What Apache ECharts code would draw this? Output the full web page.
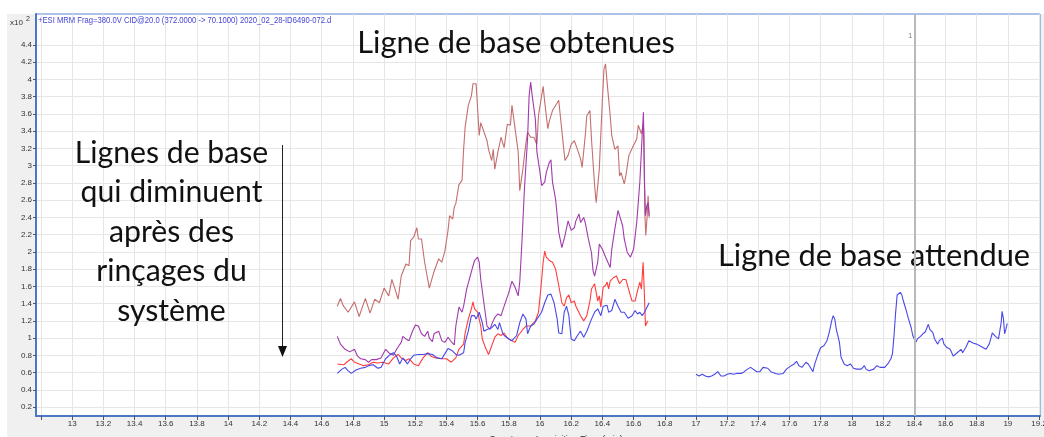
<!DOCTYPE html>
<html>
<head>
<meta charset="utf-8">
<script src="https://cdn.jsdelivr.net/npm/echarts@6/dist/echarts.min.js"></script>
<style>
  html, body { margin: 0; padding: 0; background: #ffffff; }
  #chart { width: 1044px; height: 437px; }
</style>
</head>
<body>
<div id="chart"></div>
<script>
// MRM trace header and axis captions
const traceHeader = '+ESI MRM Frag=380.0V CID@20.0 (372.0000 -> 70.1000) 2020_02_28-ID6490-072.d';
const xAxisTitle = 'Counts vs. Acquisition Time (min)';
const yScaleNote = 'x10';
const yScaleExp = '2';

// Axis extents (min) and (x10^2 counts)
const timeRange = [12.768, 19.206];
const countRange = [0.096, 4.76];

// Tick positions
const timeTicks = [12.8, 13, 13.2, 13.4, 13.6, 13.8, 14, 14.2, 14.4, 14.6, 14.8, 15, 15.2, 15.4, 15.6, 15.8,
  16, 16.2, 16.4, 16.6, 16.8, 17, 17.2, 17.4, 17.6, 17.8, 18, 18.2, 18.4, 18.6, 18.8, 19, 19.2];
const timeLabels = [13, 13.2, 13.4, 13.6, 13.8, 14, 14.2, 14.4, 14.6, 14.8, 15, 15.2, 15.4, 15.6, 15.8,
  16, 16.2, 16.4, 16.6, 16.8, 17, 17.2, 17.4, 17.6, 17.8, 18, 18.2, 18.4, 18.6, 18.8, 19, 19.2];
const countTicks = [0.2, 0.4, 0.6, 0.8, 1, 1.2, 1.4, 1.6, 1.8, 2, 2.2, 2.4, 2.6, 2.8, 3, 3.2, 3.4, 3.6,
  3.8, 4, 4.2, 4.4];

// Cursor position (min)
const cursorTime = 18.4;
const cursorLabel = '1';

// Baselines recorded before / between system rinses: [time (min), counts (x10^2)]
const rinseRun1 = [[14.70,1.37],[14.72,1.46],[14.74,1.37],[14.77,1.30],[14.81,1.42],[14.84,1.25],[14.88,1.46],
  [14.91,1.29],[14.94,1.45],[14.97,1.41],[15.00,1.58],[15.03,1.49],[15.05,1.68],[15.07,1.57],[15.09,1.45],
  [15.11,1.72],[15.14,1.86],[15.16,1.84],[15.17,2.13],[15.19,2.17],[15.21,2.28],[15.22,2.15],[15.24,2.15],
  [15.26,1.88],[15.29,1.58],[15.32,1.77],[15.35,1.92],[15.37,1.88],[15.39,2.01],[15.41,2.25],[15.42,2.42],
  [15.44,2.38],[15.45,2.52],[15.46,2.56],[15.48,2.78],[15.50,2.83],[15.51,3.19],[15.52,3.45],[15.54,3.70],
  [15.56,3.81],[15.57,3.95],[15.59,3.95],[15.60,3.66],[15.61,3.35],[15.62,3.50],[15.63,3.50],[15.66,3.29],
  [15.67,3.19],[15.69,3.06],[15.70,3.19],[15.71,2.96],[15.73,3.16],[15.75,3.33],[15.77,3.21],[15.79,3.48],
  [15.81,3.47],[15.82,3.70],[15.84,3.43],[15.86,3.16],[15.87,2.71],[15.89,2.96],[15.91,3.27],[15.92,3.39],
  [15.94,3.33],[15.96,3.33],[15.98,3.25],[15.99,3.58],[16.01,3.81],[16.02,3.92],[16.03,3.74],[16.05,3.43],
  [16.06,3.52],[16.08,3.64],[16.12,3.76],[16.13,3.58],[16.15,3.23],[16.16,3.06],[16.18,3.12],[16.20,3.25],
  [16.22,3.29],[16.24,3.19],[16.26,3.08],[16.27,2.98],[16.29,3.35],[16.30,3.58],[16.32,3.64],[16.33,3.31],
  [16.35,2.77],[16.36,2.57],[16.38,2.96],[16.40,3.77],[16.41,4.12],[16.42,4.18],[16.43,3.97],[16.45,3.58],
  [16.46,3.35],[16.48,3.19],[16.50,3.23],[16.51,2.88],[16.52,2.92],[16.54,2.79],[16.55,2.88],[16.57,3.12],
  [16.59,3.20],[16.60,3.19],[16.62,3.31],[16.63,3.47],[16.65,3.37],[16.66,3.47],[16.665,3.43],[16.672,2.46],
  [16.678,2.19],[16.687,2.42],[16.693,2.65],[16.700,2.40]];

const rinseRun2 = [[14.70,1.02],[14.72,0.93],[14.75,0.87],[14.78,0.84],[14.81,0.87],[14.83,0.79],[14.85,0.76],
  [14.88,0.75],[14.90,0.72],[14.92,0.75],[14.95,0.75],[14.98,0.77],[15.01,0.87],[15.03,0.83],[15.06,0.80],
  [15.08,0.87],[15.11,0.95],[15.12,1.02],[15.14,0.99],[15.16,0.97],[15.18,1.07],[15.20,1.15],[15.22,1.14],
  [15.24,1.05],[15.26,1.02],[15.28,1.08],[15.29,1.00],[15.31,0.96],[15.32,1.05],[15.35,1.08],[15.37,0.97],
  [15.39,0.95],[15.41,1.01],[15.43,0.96],[15.45,0.92],[15.46,1.14],[15.48,1.36],[15.50,1.30],[15.51,1.37],
  [15.53,1.57],[15.56,1.77],[15.58,1.90],[15.60,1.94],[15.61,1.88],[15.62,1.68],[15.64,1.41],[15.66,1.14],
  [15.68,1.10],[15.69,1.16],[15.71,1.24],[15.73,1.28],[15.75,1.26],[15.77,1.37],[15.80,1.53],[15.82,1.66],
  [15.84,1.59],[15.86,1.49],[15.87,1.65],[15.885,2.15],[15.90,2.73],[15.92,3.31],[15.93,3.81],[15.94,3.97],
  [15.95,3.81],[15.97,3.54],[15.98,3.16],[16.00,2.92],[16.01,2.77],[16.03,2.81],[16.04,2.92],[16.06,3.04],
  [16.07,3.07],[16.08,2.81],[16.10,2.61],[16.12,2.23],[16.13,2.21],[16.14,2.05],[16.16,2.19],[16.18,2.36],
  [16.20,2.25],[16.22,2.28],[16.23,2.36],[16.25,2.44],[16.26,2.34],[16.28,2.40],[16.29,2.34],[16.31,2.15],
  [16.33,1.99],[16.34,1.78],[16.35,1.72],[16.37,1.88],[16.38,2.09],[16.40,2.03],[16.42,1.94],[16.43,1.90],
  [16.45,1.82],[16.46,2.03],[16.48,2.27],[16.50,2.48],[16.51,2.42],[16.53,2.30],[16.54,2.15],[16.56,1.99],
  [16.58,1.94],[16.60,2.03],[16.62,2.34],[16.64,2.81],[16.655,3.35],[16.663,3.62],[16.670,2.81],[16.676,2.42],
  [16.685,2.54],[16.693,2.57],[16.700,2.42]];

const rinseRun3 = [[14.70,0.70],[14.74,0.69],[14.76,0.72],[14.79,0.76],[14.81,0.72],[14.84,0.70],[14.87,0.68],
  [14.90,0.69],[14.93,0.72],[14.96,0.71],[14.99,0.72],[15.03,0.70],[15.06,0.77],[15.09,0.81],[15.11,0.77],
  [15.14,0.74],[15.16,0.76],[15.19,0.70],[15.22,0.68],[15.25,0.77],[15.28,0.83],[15.30,0.79],[15.33,0.77],
  [15.37,0.76],[15.40,0.76],[15.43,0.72],[15.46,0.77],[15.48,0.87],[15.51,0.93],[15.52,1.06],[15.54,1.22],
  [15.56,1.34],[15.57,1.42],[15.58,1.34],[15.60,1.30],[15.62,1.14],[15.63,0.99],[15.65,0.89],[15.67,0.81],
  [15.69,0.91],[15.71,1.01],[15.73,1.05],[15.75,1.03],[15.77,1.06],[15.79,1.00],[15.82,0.97],[15.84,0.95],
  [15.86,1.03],[15.89,1.10],[15.91,1.14],[15.94,1.14],[15.97,1.20],[15.99,1.30],[16.005,1.57],[16.02,1.88],
  [16.03,2.01],[16.04,1.94],[16.06,1.90],[16.08,1.88],[16.10,1.80],[16.12,1.61],[16.14,1.41],[16.155,1.37],
  [16.17,1.47],[16.185,1.50],[16.20,1.41],[16.22,1.43],[16.23,1.37],[16.26,1.26],[16.28,1.20],[16.30,1.26],
  [16.32,1.43],[16.33,1.57],[16.35,1.63],[16.36,1.53],[16.37,1.43],[16.38,1.49],[16.39,1.36],[16.405,1.59],
  [16.42,1.61],[16.43,1.65],[16.44,1.57],[16.45,1.66],[16.47,1.70],[16.49,1.72],[16.51,1.63],[16.53,1.68],
  [16.55,1.68],[16.58,1.49],[16.59,1.43],[16.61,1.43],[16.625,1.55],[16.64,1.65],[16.65,1.57],[16.661,1.88],
  [16.668,1.57],[16.676,1.14],[16.685,1.18],[16.693,1.20]];

const rinseRun4 = [[14.70,0.59],[14.73,0.64],[14.75,0.66],[14.77,0.62],[14.79,0.59],[14.82,0.63],[14.85,0.65],
  [14.88,0.66],[14.90,0.68],[14.93,0.69],[14.96,0.65],[14.98,0.66],[15.01,0.76],[15.04,0.81],[15.06,0.83],
  [15.08,0.79],[15.10,0.70],[15.12,0.77],[15.15,0.70],[15.17,0.76],[15.19,0.80],[15.22,0.81],[15.25,0.81],
  [15.28,0.82],[15.31,0.81],[15.34,0.77],[15.37,0.76],[15.39,0.82],[15.41,0.88],[15.44,0.85],[15.46,0.81],
  [15.48,0.80],[15.51,0.83],[15.52,0.95],[15.54,1.08],[15.56,1.26],[15.58,1.26],[15.59,1.22],[15.61,1.30],
  [15.63,1.18],[15.64,1.08],[15.66,1.10],[15.69,1.12],[15.71,1.16],[15.73,1.10],[15.74,1.18],[15.76,1.06],
  [15.77,1.03],[15.80,0.99],[15.82,0.97],[15.85,1.03],[15.87,1.18],[15.89,1.28],[15.91,1.22],[15.92,1.05],
  [15.94,1.14],[15.96,1.16],[15.98,1.22],[16.01,1.30],[16.03,1.41],[16.05,1.50],[16.07,1.51],[16.09,1.41],
  [16.11,1.22],[16.12,1.06],[16.14,1.05],[16.155,1.30],[16.17,1.37],[16.185,1.26],[16.20,0.99],[16.22,0.97],
  [16.24,1.03],[16.26,1.08],[16.28,1.01],[16.30,1.08],[16.33,1.22],[16.35,1.30],[16.37,1.34],[16.39,1.26],
  [16.405,1.37],[16.43,1.38],[16.44,1.30],[16.46,1.32],[16.48,1.45],[16.50,1.37],[16.52,1.30],[16.54,1.30],
  [16.565,1.23],[16.59,1.26],[16.61,1.32],[16.625,1.28],[16.64,1.30],[16.655,1.26],[16.67,1.30],[16.68,1.30],
  [16.70,1.41]];

// Baseline expected from a clean system
const expectedRun = [[17.00,0.58],[17.02,0.56],[17.04,0.58],[17.06,0.56],[17.08,0.55],[17.10,0.56],[17.12,0.58],
  [17.14,0.61],[17.16,0.56],[17.18,0.56],[17.20,0.58],[17.22,0.59],[17.24,0.58],[17.26,0.59],[17.27,0.57],
  [17.29,0.59],[17.31,0.61],[17.33,0.64],[17.35,0.66],[17.36,0.64],[17.39,0.61],[17.41,0.61],[17.43,0.66],
  [17.44,0.68],[17.46,0.65],[17.48,0.61],[17.51,0.59],[17.53,0.58],[17.56,0.59],[17.58,0.64],[17.61,0.68],
  [17.63,0.70],[17.645,0.73],[17.66,0.68],[17.68,0.66],[17.69,0.68],[17.705,0.72],[17.72,0.70],[17.73,0.68],
  [17.75,0.61],[17.76,0.69],[17.78,0.80],[17.80,0.89],[17.82,0.91],[17.84,0.97],[17.855,1.07],[17.87,1.20],
  [17.88,1.26],[17.89,1.22],[17.90,1.10],[17.92,0.95],[17.93,0.78],[17.95,0.70],[17.97,0.68],[17.99,0.70],
  [18.01,0.65],[18.03,0.64],[18.04,0.66],[18.06,0.64],[18.08,0.68],[18.09,0.64],[18.11,0.62],[18.12,0.63],
  [18.14,0.64],[18.16,0.68],[18.18,0.66],[18.21,0.66],[18.23,0.70],[18.25,0.76],[18.26,0.82],[18.27,1.03],
  [18.28,1.29],[18.29,1.50],[18.31,1.53],[18.32,1.50],[18.33,1.43],[18.35,1.31],[18.36,1.24],[18.38,1.12],
  [18.39,1.03],[18.41,0.95],[18.42,0.99],[18.44,1.02],[18.455,1.05],[18.47,1.07],[18.48,1.08],[18.49,1.16],
  [18.50,1.10],[18.52,1.06],[18.53,0.99],[18.55,0.93],[18.56,0.97],[18.58,1.00],[18.59,0.93],[18.61,0.89],
  [18.63,0.87],[18.65,0.79],[18.675,0.83],[18.70,0.87],[18.71,0.83],[18.73,0.89],[18.75,0.97],[18.78,0.94],
  [18.80,0.93],[18.82,0.91],[18.84,0.89],[18.86,0.87],[18.88,0.93],[18.89,0.99],[18.90,1.06],[18.92,1.02],
  [18.94,0.99],[18.95,1.00],[18.957,1.18],[18.963,1.31],[18.972,1.22],[18.979,1.05],[18.987,1.10],[18.996,1.17]];

// Callout texts
const calloutTop = 'Ligne de base obtenues';
const calloutLeft = ['Lignes de base', 'qui diminuent', 'après des', 'rinçages du', 'système'];
const calloutRight = 'Ligne de base attendue';

const tickFont = '"Liberation Sans", Arial, sans-serif';
const calloutFont = 'Lato, "Open Sans", sans-serif';

const chart = echarts.init(document.getElementById('chart'), null, { renderer: 'canvas' });

function trace(name, data, color) {
  return {
    name, type: 'line', data, symbol: 'none', showSymbol: false, silent: true,
    lineStyle: { color, width: 1.1 }, z: 3
  };
}

const series = [
  trace('run1', rinseRun1, '#c46e6e'),
  trace('run2', rinseRun2, '#a03aad'),
  trace('run3', rinseRun3, '#ff3c3c'),
  trace('run4', rinseRun4, '#4848e8'),
  Object.assign(trace('expected', expectedRun, '#4848e8'), {
    markLine: {
      silent: true, symbol: 'none', animation: false,
      label: { show: false },
      lineStyle: { color: '#b9b9b9', width: 2, type: 'solid' },
      data: [{ xAxis: cursorTime }]
    }
  })
];

chart.setOption({
  animation: false,
  backgroundColor: '#ffffff',
  grid: {
    left: 36, right: 4, top: 14, bottom: 21, show: true,
    outerBoundsMode: 'none', containLabel: false,
    backgroundColor: '#ffffff', borderColor: '#5b84d4', borderWidth: 1
  },
  xAxis: {
    type: 'value', min: timeRange[0], max: timeRange[1],
    axisLine: { show: true, onZero: false, lineStyle: { color: '#4a78c8', width: 2 } },
    axisTick: { show: true, customValues: timeTicks, length: 4, lineStyle: { color: '#555' } },
    axisLabel: { customValues: timeLabels, fontFamily: tickFont, fontSize: 8, color: '#333', margin: 4,
      hideOverlap: false },
    splitLine: { show: true, lineStyle: { color: '#e6e6e6', width: 1 } },
    name: xAxisTitle, nameLocation: 'middle', nameGap: 19,
    nameTextStyle: { fontFamily: tickFont, fontSize: 9, color: '#333', padding: [0, 0, 0, 36] }
  },
  yAxis: {
    type: 'value', min: countRange[0], max: countRange[1],
    axisLine: { show: true, onZero: false, lineStyle: { color: '#4a78c8', width: 2 } },
    axisTick: { show: true, customValues: countTicks, length: 3, lineStyle: { color: '#555' } },
    axisLabel: { customValues: countTicks, fontFamily: tickFont, fontSize: 8, color: '#333', margin: 4 },
    splitLine: { show: true, lineStyle: { color: '#e6e6e6', width: 1 } }
  },
  series
});

// Annotation layer: frame panel, header, cursor tag, scale note, callouts and arrow
const cursorX = chart.convertToPixel({ xAxisIndex: 0 }, cursorTime);
const graphics = [
  { type: 'rect', z: -10, silent: true, shape: { x: 7, y: 14, width: 1037, height: 423 }, style: { fill: '#f0f0f0' } },
  { type: 'text', x: 38, y: 21, scaleX: 0.9, style: { text: traceHeader, font: '8.5px ' + tickFont,
      fill: '#4444d4', verticalAlign: 'middle' } },
  { type: 'text', x: 10, y: 23, style: { text: yScaleNote, font: '8px ' + tickFont, fill: '#333', verticalAlign: 'middle' } },
  { type: 'text', x: 26, y: 19, style: { text: yScaleExp, font: '7px ' + tickFont, fill: '#333', verticalAlign: 'middle' } },
  { type: 'text', x: cursorX - 4, y: 36, style: { text: cursorLabel, font: '8px ' + tickFont, fill: '#8a8a8a',
      align: 'center', verticalAlign: 'middle' } },
  { type: 'text', x: 516, y: 43, style: { text: calloutTop, font: '30.8px ' + calloutFont, fill: '#111',
      align: 'center', verticalAlign: 'middle' } },
  { type: 'text', x: 874, y: 256, style: { text: calloutRight, font: '30.8px ' + calloutFont, fill: '#111',
      align: 'center', verticalAlign: 'middle' } },
  { type: 'line', shape: { x1: 282.5, y1: 145, x2: 282.5, y2: 348 }, style: { stroke: '#222', lineWidth: 1 } },
  { type: 'polygon', shape: { points: [[278, 346], [287, 346], [282.5, 357]] }, style: { fill: '#111' } }
];
calloutLeft.forEach((line, i) => {
  graphics.push({ type: 'text', x: 171.5, y: 153 + i * 39.5,
    style: { text: line, font: '30.2px ' + calloutFont, fill: '#111', align: 'center', verticalAlign: 'middle' } });
});
chart.setOption({ graphic: graphics });
</script>
</body>
</html>
